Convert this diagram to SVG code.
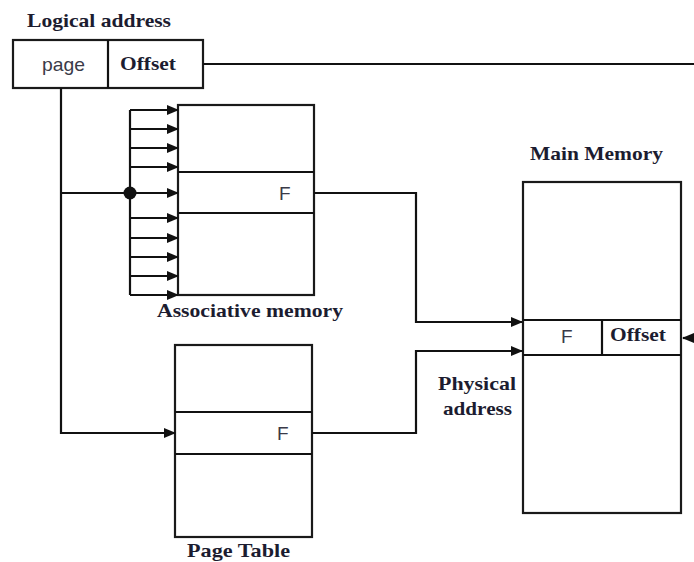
<svg xmlns="http://www.w3.org/2000/svg" width="694" height="562" viewBox="0 0 694 562">
<style>
.box{fill:#fff;stroke:#1a1a1a;stroke-width:2.2}
.ln{fill:none;stroke:#111;stroke-width:2.2}
.lbl{font-family:"Liberation Serif",serif;font-weight:bold;font-size:19px;fill:#1c1c30}
.sans{font-family:"Liberation Sans",Arial,sans-serif;font-size:19px;fill:#3a3a48}
</style>
<defs>
<marker id="ah" markerWidth="12" markerHeight="10" refX="11" refY="5" orient="auto" markerUnits="userSpaceOnUse">
<path d="M0,0 L12,5 L0,10 Z" fill="#111"/>
</marker>
</defs>
<rect width="694" height="562" fill="#fff"/>

<g id="logical-address">
<text class="lbl" x="27" y="27" textLength="144" lengthAdjust="spacingAndGlyphs">Logical address</text>
<rect class="box" x="13" y="40" width="190" height="48"/>
<line class="ln" x1="108" y1="40" x2="108" y2="88"/>
<text class="sans" x="42" y="71" textLength="43" lengthAdjust="spacingAndGlyphs">page</text>
<text class="lbl" x="120" y="70" textLength="56" lengthAdjust="spacingAndGlyphs">Offset</text>
</g>

<g id="associative-memory">
<rect class="box" x="178" y="105" width="136" height="190"/>
<line class="ln" x1="178" y1="172" x2="314" y2="172"/>
<line class="ln" x1="178" y1="213" x2="314" y2="213"/>
<text class="sans" x="279" y="200">F</text>
<text class="lbl" x="157" y="317" textLength="186" lengthAdjust="spacingAndGlyphs">Associative memory</text>
</g>

<g id="page-table">
<rect class="box" x="175" y="345" width="137" height="192"/>
<line class="ln" x1="175" y1="412" x2="312" y2="412"/>
<line class="ln" x1="175" y1="454" x2="312" y2="454"/>
<text class="sans" x="277" y="440">F</text>
<text class="lbl" x="187" y="557" textLength="103" lengthAdjust="spacingAndGlyphs">Page Table</text>
</g>

<g id="main-memory">
<text class="lbl" x="530" y="160" textLength="133" lengthAdjust="spacingAndGlyphs">Main Memory</text>
<rect class="box" x="523" y="182" width="158" height="331"/>
<line class="ln" x1="523" y1="320" x2="681" y2="320"/>
<line class="ln" x1="523" y1="355" x2="681" y2="355"/>
<line class="ln" x1="602" y1="320" x2="602" y2="355"/>
<text class="sans" x="561" y="343">F</text>
<text class="lbl" x="610" y="341" textLength="56" lengthAdjust="spacingAndGlyphs">Offset</text>
</g>

<g id="physical-address">
<text class="lbl" x="438" y="390" textLength="78" lengthAdjust="spacingAndGlyphs">Physical</text>
<text class="lbl" x="443" y="415" textLength="69" lengthAdjust="spacingAndGlyphs">address</text>
</g>

<g id="connectors">
<line class="ln" x1="203" y1="64" x2="694" y2="64"/>
<line class="ln" x1="694" y1="338" x2="683" y2="338" marker-end="url(#ah)"/>
<polyline class="ln" points="61,88 61,433 175,433" marker-end="url(#ah)"/>
<line class="ln" x1="61" y1="193" x2="130" y2="193"/>
<line class="ln" x1="130" y1="110" x2="130" y2="295"/>
<circle cx="130" cy="193" r="6.5" fill="#111"/>
<line class="ln" x1="130" y1="110" x2="178" y2="110" marker-end="url(#ah)"/>
<line class="ln" x1="130" y1="129" x2="178" y2="129" marker-end="url(#ah)"/>
<line class="ln" x1="130" y1="148" x2="178" y2="148" marker-end="url(#ah)"/>
<line class="ln" x1="130" y1="167" x2="178" y2="167" marker-end="url(#ah)"/>
<line class="ln" x1="130" y1="193" x2="178" y2="193" marker-end="url(#ah)"/>
<line class="ln" x1="130" y1="218" x2="178" y2="218" marker-end="url(#ah)"/>
<line class="ln" x1="130" y1="238" x2="178" y2="238" marker-end="url(#ah)"/>
<line class="ln" x1="130" y1="257" x2="178" y2="257" marker-end="url(#ah)"/>
<line class="ln" x1="130" y1="276" x2="178" y2="276" marker-end="url(#ah)"/>
<line class="ln" x1="130" y1="295" x2="178" y2="295" marker-end="url(#ah)"/>
<polyline class="ln" points="314,193 416,193 416,322 522,322" marker-end="url(#ah)"/>
<polyline class="ln" points="312,433 416,433 416,351 522,351" marker-end="url(#ah)"/>
</g>
</svg>
